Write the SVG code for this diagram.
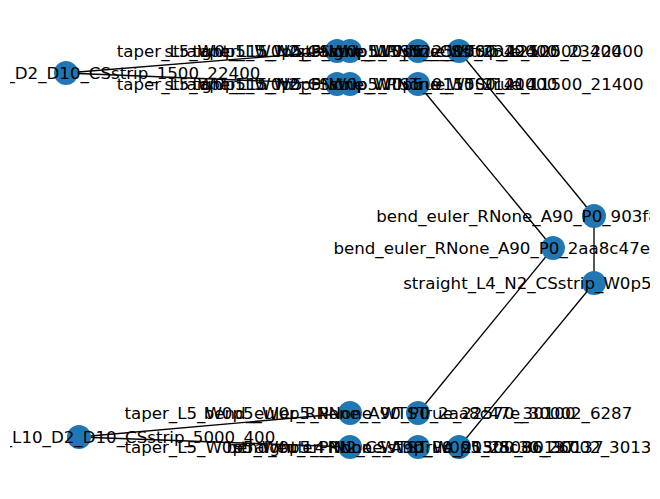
<svg xmlns="http://www.w3.org/2000/svg" width="660" height="499" viewBox="0 0 660 499">
<style>
.e{stroke:#000;stroke-width:1.33;fill:none}
.n circle{fill:#1f77b4}
.n text{font-family:"DejaVu Sans",sans-serif;font-size:16.67px;fill:#000;text-anchor:middle;dominant-baseline:central}
</style>
<defs><clipPath id="ax"><rect x="10" y="10" width="640" height="479"/></clipPath></defs>
<rect width="660" height="499" fill="#fff"/>
<g id="connectors" class="e">
<line x1="66" y1="73" x2="337" y2="51"/>
<line x1="66" y1="73" x2="337" y2="84"/>
<line x1="418" y1="84" x2="553" y2="248"/>
<line x1="459" y1="51" x2="594" y2="216"/>
<line x1="594" y1="216" x2="594" y2="283"/>
<line x1="553" y1="248" x2="418" y2="413"/>
<line x1="594" y1="283" x2="459" y2="447"/>
<line x1="79" y1="437" x2="350" y2="413"/>
<line x1="79" y1="437" x2="350" y2="447"/>
</g>
<g clip-path="url(#ax)">
<g id="n1" class="n"><circle cx="337" cy="51" r="12"/></g>
<g id="n2" class="n"><circle cx="350" cy="51" r="12"/></g>
<g id="n3" class="n"><circle cx="418" cy="51" r="12"/></g>
<g id="n4" class="n"><circle cx="459" cy="51" r="12"/></g>
<g id="n5" class="n"><circle cx="337" cy="84" r="12"/></g>
<g id="n6" class="n"><circle cx="350" cy="84" r="12"/></g>
<g id="n7" class="n"><circle cx="418" cy="84" r="12"/></g>
<g id="n8" class="n"><circle cx="66" cy="73" r="12"/></g>
<g id="n9" class="n"><circle cx="594" cy="216" r="12"/></g>
<g id="n10" class="n"><circle cx="553" cy="248" r="12"/></g>
<g id="n11" class="n"><circle cx="594" cy="283" r="12"/></g>
<g id="n12" class="n"><circle cx="350" cy="413" r="12"/></g>
<g id="n13" class="n"><circle cx="418" cy="413" r="12"/></g>
<g id="n14" class="n"><circle cx="79" cy="437" r="12"/></g>
<g id="n15" class="n"><circle cx="350" cy="447" r="12"/></g>
<g id="n16" class="n"><circle cx="418" cy="447" r="12"/></g>
<g id="n17" class="n"><circle cx="459" cy="447" r="12"/></g>

<g class="n">
<text x="337" y="51">taper_L5_W0p5_W0p5_PNone_WTSTrue_1500_22400</text>
<text x="350" y="51">straight_L15_N2_CSstrip_W0p5_2500_23400</text>
<text x="418" y="51">taper_L5_W0p5_W0p5_PNone_WTSTrue_12500_22400</text>
<text x="459" y="51">straight_L15_N2_CSstrip_12500_23400</text>
<text x="337" y="84">taper_L5_W0p5_W0p5_PNone_WTSTrue_1500_21400</text>
<text x="350" y="84">straight_L15_N2_CSstrip_W0p5_9150_21400</text>
<text x="418" y="84">taper_L5_W0p5_W0p5_PNone_WTSTrue_11500_21400</text>
<text x="66" y="73">straight_N2_L10_D2_D10_CSstrip_1500_22400</text>
<text x="594" y="216">bend_euler_RNone_A90_P0_903f8c30_30002_17287</text>
<text x="553" y="248">bend_euler_RNone_A90_P0_2aa8c47e_27002_20287</text>
<text x="594" y="283">straight_L4_N2_CSstrip_W0p5_300002_19287</text>
<text x="350" y="413">taper_L5_W0p5_W0p5_PNone_WTSTrue_22570_30100</text>
<text x="418" y="413">bend_euler_RNone_A90_P0_2aa8c47e_30002_6287</text>
<text x="79" y="437">straight_W0p5_L10_D2_D10_CSstrip_5000_400</text>
<text x="350" y="447">taper_L5_W0p5_W0p5_PNone_WTSTrue_21500_30137</text>
<text x="418" y="447">straight_L4_N2_CSstrip_W0p5_25086_30137</text>
<text x="459" y="447">bend_euler_RNone_A90_P0_903f8c30_26002_30137_42</text>
</g>
</g>
</svg>
